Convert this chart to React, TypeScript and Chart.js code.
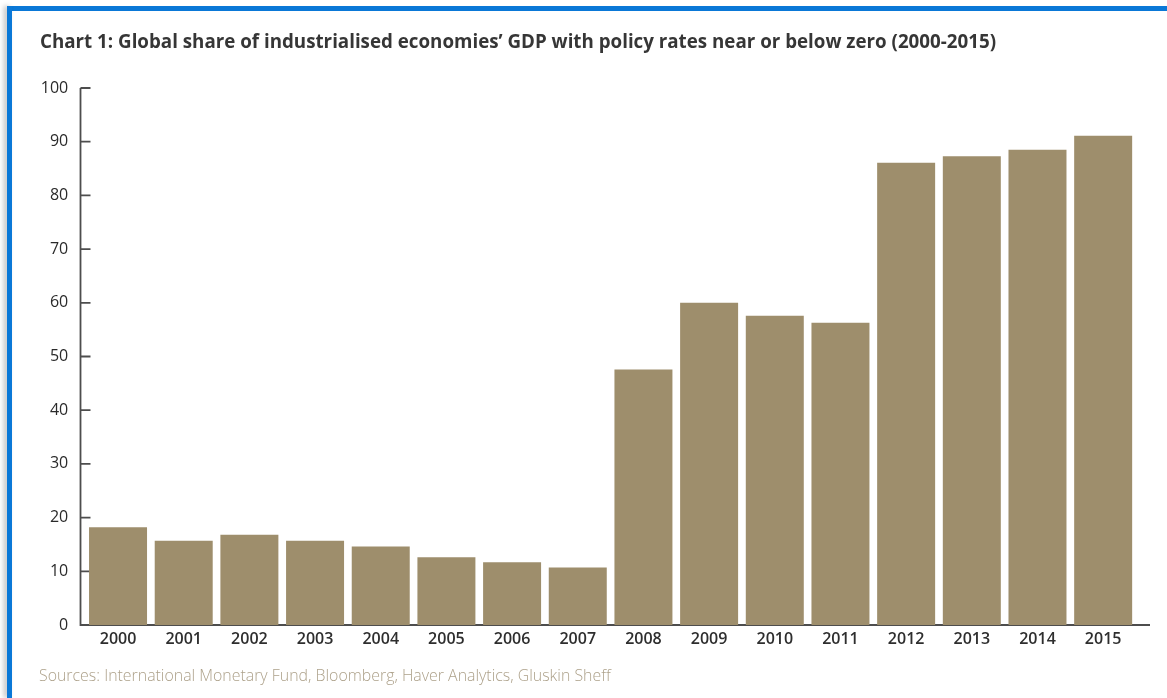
import React, { useEffect, useRef } from "react";
import { Chart, registerables } from "chart.js";

Chart.register(...registerables);

const categories: string[] = [
  "2000", "2001", "2002", "2003", "2004", "2005", "2006", "2007",
  "2008", "2009", "2010", "2011", "2012", "2013", "2014", "2015",
];
const shareValues: number[] = [
  18.2, 15.7, 16.8, 15.7, 14.6, 12.6, 11.7, 10.7,
  47.6, 60.0, 57.6, 56.3, 86.1, 87.3, 88.5, 91.1,
];
const yTickValues: number[] = [0, 10, 20, 30, 40, 50, 60, 70, 80, 90, 100];

const titleText =
  "Chart 1: Global share of industrialised economies\u2019 GDP with policy rates near or below zero (2000-2015)";
const sourceText =
  "Sources: International Monetary Fund, Bloomberg, Haver Analytics, Gluskin Sheff";

const BAR_COLOR = "rgb(158,142,108)";
const AXIS_COLOR = "#4d4d4d";
const BLUE = "#0a78d7";

const axisPlugin = {
  id: "customAxes",
  beforeDatasetsDraw(chart: any) {
    const { ctx, chartArea, scales } = chart;
    const y = scales.y;
    const x0 = Math.round(chartArea.left - 5) + 0.5;
    const yBottom = y.getPixelForValue(0);
    const yTop = y.getPixelForValue(100);
    ctx.save();
    ctx.strokeStyle = AXIS_COLOR;
    ctx.lineWidth = 1.8;
    ctx.beginPath();
    ctx.moveTo(x0, yTop);
    ctx.lineTo(x0, yBottom);
    ctx.lineTo(chartArea.right + 14, yBottom);
    ctx.stroke();
    ctx.beginPath();
    yTickValues.forEach((v) => {
      if (v === 0) return;
      const py = y.getPixelForValue(v);
      ctx.moveTo(x0, py);
      ctx.lineTo(x0 + 10, py);
    });
    ctx.stroke();
    ctx.restore();
  },
};

function BarChart() {
  const ref = useRef<HTMLCanvasElement | null>(null);
  useEffect(() => {
    if (!ref.current) return;
    const chart = new Chart(ref.current, {
      type: "bar",
      data: {
        labels: categories,
        datasets: [
          {
            data: shareValues,
            backgroundColor: BAR_COLOR,
            borderWidth: 0,
            categoryPercentage: 1,
            barPercentage: 0.883,
          },
        ],
      },
      options: {
        animation: false,
        responsive: true,
        maintainAspectRatio: false,
        layout: { padding: { left: 0, right: 31, top: 88, bottom: 0 } },
        plugins: {
          legend: { display: false },
          title: { display: false },
          tooltip: { enabled: false },
        },
        scales: {
          x: {
            grid: { display: false, drawTicks: false, tickLength: 0 },
            border: { display: false },
            ticks: {
              color: "#2e2e2e",
              font: { family: "'Open Sans'", size: 16, weight: "600" },
              padding: 5,
              maxRotation: 0,
              autoSkip: false,
            },
            afterFit(scale: any) {
              scale.height = 73;
            },
          },
          y: {
            min: 0,
            max: 100,
            grid: { display: false, drawTicks: false, tickLength: 0 },
            border: { display: false },
            ticks: {
              stepSize: 10,
              color: "#2a2a2a",
              font: { family: "'Open Sans'", size: 16, weight: "400" },
              padding: 17,
            },
            afterFit(scale: any) {
              scale.width = 85.2;
            },
          },
        },
      },
      plugins: [axisPlugin],
    });
    return () => chart.destroy();
  }, []);
  return (
    <canvas
      ref={ref}
      style={{ position: "absolute", left: 0, top: 0, width: 1167, height: 698 }}
    />
  );
}

export default function App() {
  return (
    <div
      style={{
        position: "fixed",
        left: 0,
        top: 0,
        width: 1167,
        height: 698,
        background: "#ffffff",
        overflow: "hidden",
      }}
    >
      <div style={{ position: "absolute", left: 0, top: 0, width: 1167, height: 698 }}>
        <BarChart />
      </div>
      <div
        style={{
          position: "absolute",
          left: 7,
          top: 6,
          right: 0,
          height: 5,
          background: BLUE,
        }}
      />
      <div
        style={{
          position: "absolute",
          left: 7,
          top: 6,
          width: 5,
          bottom: 0,
          background: BLUE,
          boxShadow: "-3px 0 5px rgba(0,0,0,0.25)",
        }}
      />
      <div
        style={{
          position: "absolute",
          left: 40,
          top: 28,
          fontFamily: "'Open Sans', sans-serif",
          fontWeight: 700,
          fontSize: 18.75,
          color: "#363636",
          whiteSpace: "nowrap",
          lineHeight: "normal",
        }}
      >
        {titleText}
      </div>
      <div
        style={{
          position: "absolute",
          left: 39,
          top: 664,
          fontFamily: "'Open Sans', sans-serif",
          fontWeight: 300,
          fontSize: 15.9,
          color: "#ada18a",
          whiteSpace: "nowrap",
          lineHeight: "normal",
        }}
      >
        {sourceText}
      </div>
    </div>
  );
}
